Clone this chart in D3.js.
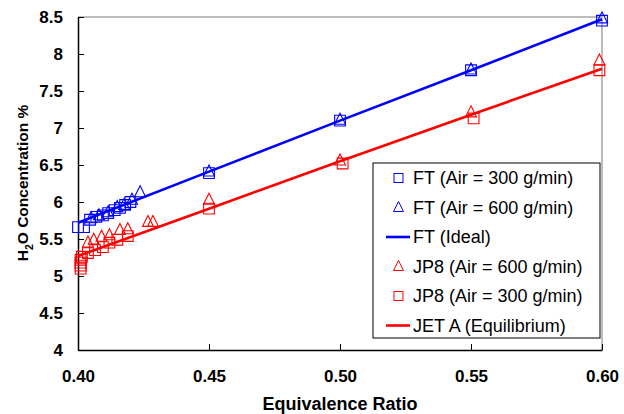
<!DOCTYPE html>
<html>
<head>
<meta charset="utf-8">
<script src="https://cdn.jsdelivr.net/npm/d3@7/dist/d3.min.js"></script>
<style>
  body { margin: 0; background: #fff; }
  svg { display: block; font-family: "Liberation Sans", Arial, sans-serif; }
</style>
</head>
<body>
<svg id="chart" width="624" height="414"></svg>
<script>
// Equivalence ratio vs. measured H2O concentration (%)
const ftAir300Phi = [0.4000, 0.4023, 0.4046, 0.4070, 0.4095, 0.4115, 0.4140, 0.4160, 0.4180, 0.4200, 0.450, 0.500, 0.550, 0.600];
const ftAir300H2O = [5.66, 5.66, 5.76, 5.80, 5.82, 5.85, 5.89, 5.92, 5.96, 6.00, 6.39, 7.10, 7.78, 8.45];

const ftAir600Phi = [0.4050, 0.4080, 0.4115, 0.4150, 0.4176, 0.4206, 0.4237, 0.450, 0.500, 0.550, 0.600];
const ftAir600H2O = [5.78, 5.82, 5.86, 5.93, 5.96, 6.03, 6.13, 6.41, 7.11, 7.79, 8.48];

const jp8Air600Phi = [0.4038, 0.4060, 0.4090, 0.4120, 0.4160, 0.4190, 0.4267, 0.4286, 0.450, 0.500, 0.550, 0.599];
const jp8Air600H2O = [5.45, 5.49, 5.53, 5.55, 5.62, 5.63, 5.73, 5.73, 6.03, 6.56, 7.21, 7.91];

const jp8Air300Phi = [0.4010, 0.4010, 0.4010, 0.4010, 0.4015, 0.4038, 0.4065, 0.4095, 0.4120, 0.4150, 0.4190, 0.450, 0.501, 0.551, 0.599];
const jp8Air300H2O = [5.10, 5.14, 5.18, 5.22, 5.26, 5.31, 5.35, 5.39, 5.45, 5.49, 5.54, 5.91, 6.52, 7.13, 7.78];

const ftIdealPhi = [0.40, 0.45, 0.50, 0.55, 0.60];
const ftIdealH2O = [5.72, 6.41, 7.10, 7.78, 8.47];

const jetAEqPhi = [0.40, 0.45, 0.50, 0.55, 0.60];
const jetAEqH2O = [5.27, 5.91, 6.55, 7.18, 7.80];

const xTicks = [0.40, 0.45, 0.50, 0.55, 0.60];
const yTicks = [4, 4.5, 5, 5.5, 6, 6.5, 7, 7.5, 8, 8.5];

const legendLabels = [
  "FT (Air = 300 g/min)",
  "FT (Air = 600 g/min)",
  "FT (Ideal)",
  "JP8 (Air = 600 g/min)",
  "JP8 (Air = 300 g/min)",
  "JET A (Equilibrium)"
];

const BLUE = "#0000ff", RED = "#ff0000";

const svg = d3.select("#chart");
const plot = { left: 78, right: 602, top: 17, bottom: 350 };

const x = d3.scaleLinear().domain([0.40, 0.60]).range([plot.left, plot.right]);
const y = d3.scaleLinear().domain([4, 8.5]).range([plot.bottom, plot.top]);

// plot-area frame (top/right in grey)
svg.append("path")
  .attr("d", `M${plot.left},${plot.top}H${plot.right}V${plot.bottom}`)
  .attr("fill", "none").attr("stroke", "#a6a6a6").attr("stroke-width", 1.5);

// axes with inward ticks
const xAxis = svg.append("g").attr("transform", `translate(0,${plot.bottom})`)
  .call(d3.axisBottom(x).tickValues(xTicks).tickFormat(d3.format(".2f")).tickSizeInner(-6).tickSizeOuter(0).tickPadding(14));
const yAxis = svg.append("g").attr("transform", `translate(${plot.left},0)`)
  .call(d3.axisLeft(y).tickValues(yTicks).tickFormat(d => String(d)).tickSizeInner(-6).tickSizeOuter(0).tickPadding(14));

[xAxis, yAxis].forEach(g => {
  g.select(".domain").attr("stroke", "#000").attr("stroke-width", 1.5);
  g.selectAll(".tick line").attr("stroke", "#000").attr("stroke-width", 1);
  g.selectAll(".tick text").attr("fill", "#000")
    .style("font-family", '"Liberation Sans", Arial, sans-serif')
    .style("font-size", "17px").style("font-weight", "bold");
});
yAxis.selectAll(".tick text").attr("x", -15);
xAxis.selectAll(".tick text").attr("dy", "0.71em").attr("y", 20);

// axis titles
svg.append("text")
  .attr("x", (plot.left + plot.right) / 2).attr("y", 410)
  .attr("text-anchor", "middle")
  .style("font-size", "18px").style("font-weight", "bold")
  .text("Equivalence Ratio");

const yt = svg.append("text")
  .attr("transform", `translate(28,183) rotate(-90)`)
  .attr("text-anchor", "middle")
  .style("font-size", "15.5px").style("font-weight", "bold");
yt.append("tspan").text("H");
yt.append("tspan").attr("dy", 5).style("font-size", "10.5px").text("2");
yt.append("tspan").attr("dy", -5).text("O Concentration %");

// lines
const line = d3.line().x(d => x(d[0])).y(d => y(d[1]));
const lineData = [
  { phi: ftIdealPhi, h2o: ftIdealH2O, color: BLUE },
  { phi: jetAEqPhi, h2o: jetAEqH2O, color: RED }
];
lineData.forEach(s => {
  svg.append("path")
    .datum(d3.zip(s.phi, s.h2o))
    .attr("d", line)
    .attr("fill", "none").attr("stroke", s.color).attr("stroke-width", 2.6);
});

// markers
const sqSym = d3.symbol().type(d3.symbolSquare).size(115);
const triPath = s => `M0,${-s * 0.6}L${s / 2},${s * 0.4}L${-s / 2},${s * 0.4}Z`;

function squares(phi, h2o, color) {
  svg.append("g").selectAll("path").data(d3.zip(phi, h2o)).join("path")
    .attr("transform", d => `translate(${x(d[0])},${y(d[1])})`)
    .attr("d", sqSym())
    .attr("fill", "none").attr("stroke", color).attr("stroke-width", 1.1);
}
function triangles(phi, h2o, color) {
  svg.append("g").selectAll("path").data(d3.zip(phi, h2o)).join("path")
    .attr("transform", d => `translate(${x(d[0])},${y(d[1])})`)
    .attr("d", triPath(11))
    .attr("fill", "none").attr("stroke", color).attr("stroke-width", 1.1);
}
squares(ftAir300Phi, ftAir300H2O, BLUE);
triangles(ftAir600Phi, ftAir600H2O, BLUE);
triangles(jp8Air600Phi, jp8Air600H2O, RED);
squares(jp8Air300Phi, jp8Air300H2O, RED);

// legend
const lg = svg.append("g").attr("transform", "translate(373,163)");
lg.append("rect").attr("width", 227).attr("height", 175)
  .attr("fill", "#fff").attr("stroke", "#000").attr("stroke-width", 1);
const legendKinds = [
  { kind: "square", color: BLUE },
  { kind: "triangle", color: BLUE },
  { kind: "line", color: BLUE },
  { kind: "triangle", color: RED },
  { kind: "square", color: RED },
  { kind: "line", color: RED }
];
legendLabels.forEach((label, i) => {
  const row = lg.append("g").attr("transform", `translate(0,${15 + i * 29.5})`);
  const k = legendKinds[i];
  if (k.kind === "square") {
    row.append("rect").attr("x", 21).attr("y", -4.5).attr("width", 9).attr("height", 9)
      .attr("fill", "none").attr("stroke", k.color).attr("stroke-width", 1);
  } else if (k.kind === "triangle") {
    row.append("path").attr("transform", "translate(25.5,0)").attr("d", triPath(10))
      .attr("fill", "none").attr("stroke", k.color).attr("stroke-width", 1);
  } else {
    row.append("line").attr("x1", 13).attr("x2", 37).attr("y1", 0).attr("y2", 0)
      .attr("stroke", k.color).attr("stroke-width", 2.6);
  }
  row.append("text").attr("x", 40).attr("y", 0).attr("dy", "0.36em")
    .style("font-size", "18px").text(label);
});
</script>
</body>
</html>
